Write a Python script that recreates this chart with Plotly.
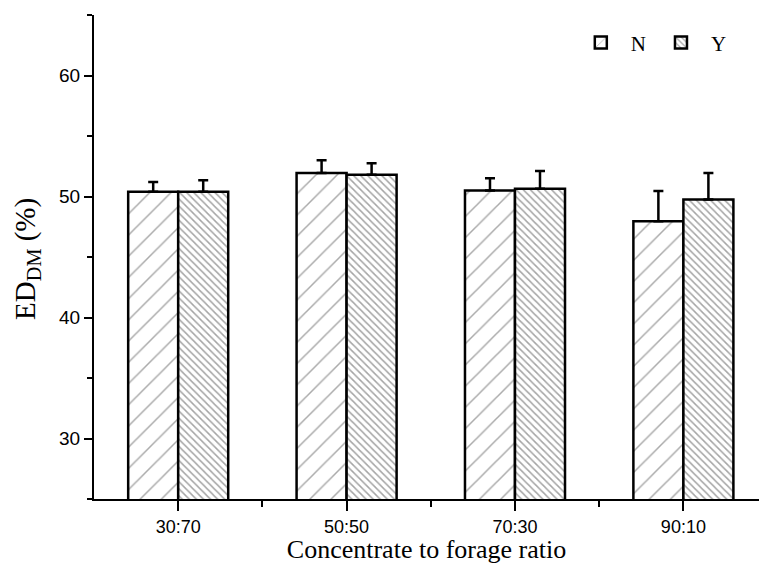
import plotly.graph_objects as go

categories = ["30:70", "50:50", "70:30", "90:10"]
n_values = [50.4, 51.95, 50.5, 47.95]
n_errors = [0.8, 1.05, 1.0, 2.5]
y_values = [50.4, 51.8, 50.65, 49.75]
y_errors = [0.95, 0.95, 1.45, 2.2]
x_pos = list(range(len(categories)))

serif = "Liberation Serif, Times New Roman, serif"
sans = "Liberation Sans, Arial, sans-serif"

fig = go.Figure()
fig.add_trace(go.Bar(
    name="N", x=x_pos, y=n_values, base=0, width=0.297, offset=-0.297,
    marker=dict(color="white", line=dict(color="black", width=2.5),
                pattern=dict(shape="/", size=15, solidity=0.1, fgcolor="#555", bgcolor="white", fillmode="overlay")),
    error_y=dict(type="data", array=n_errors, arrayminus=[0] * 4, symmetric=False,
                 color="black", thickness=2.5, width=5),
))
fig.add_trace(go.Bar(
    name="Y", x=x_pos, y=y_values, base=0, width=0.297, offset=0,
    marker=dict(color="white", line=dict(color="black", width=2.5),
                pattern=dict(shape="\\", size=5, solidity=0.3, fgcolor="#4a4a4a", bgcolor="white", fillmode="overlay")),
    error_y=dict(type="data", array=y_errors, arrayminus=[0] * 4, symmetric=False,
                 color="black", thickness=2.5, width=5),
))

fig.update_layout(
    width=759, height=564,
    margin=dict(l=94, r=0, t=15, b=65),
    paper_bgcolor="white", plot_bgcolor="white",
    barmode="overlay",
    showlegend=True,
    legend=dict(orientation="h", x=0.717, y=0.985, xanchor="left", yanchor="top",
                font=dict(family=serif, size=21, color="black"), bgcolor="rgba(0,0,0,0)",
                itemwidth=50, traceorder="normal"),
    xaxis=dict(range=[-0.5, 3.449], tickmode="array", tickvals=x_pos, ticktext=categories,
               showline=True, linecolor="black", linewidth=2, ticks="outside", ticklen=10,
               tickwidth=2, tickcolor="black", showgrid=False, zeroline=False,
               tickfont=dict(family=sans, size=18, color="black"),
               minor=dict(tickvals=[0.5, 1.5, 2.5], ticks="outside", ticklen=6, tickwidth=2, tickcolor="black"),
               title=dict(text="Concentrate to forage ratio", font=dict(family=serif, size=26, color="black"),
                          standoff=7)),
    yaxis=dict(range=[25, 65], tickvals=[30, 40, 50, 60],
               showline=True, linecolor="black", linewidth=2, ticks="outside", ticklen=8,
               tickwidth=2, tickcolor="black", showgrid=False, zeroline=False,
               tickfont=dict(family=sans, size=19, color="black"),
               minor=dict(tickvals=[25, 35, 45, 55, 65], ticks="outside", ticklen=5, tickwidth=2, tickcolor="black")),
    annotations=[dict(text="ED<sub>DM</sub> (%)", xref="paper", yref="paper", x=0, y=0.496,
                      xanchor="center", yanchor="middle", xshift=-67, textangle=-90, showarrow=False,
                      font=dict(family=serif, size=29, color="black"))],
)

fig.write_html("out.html")
